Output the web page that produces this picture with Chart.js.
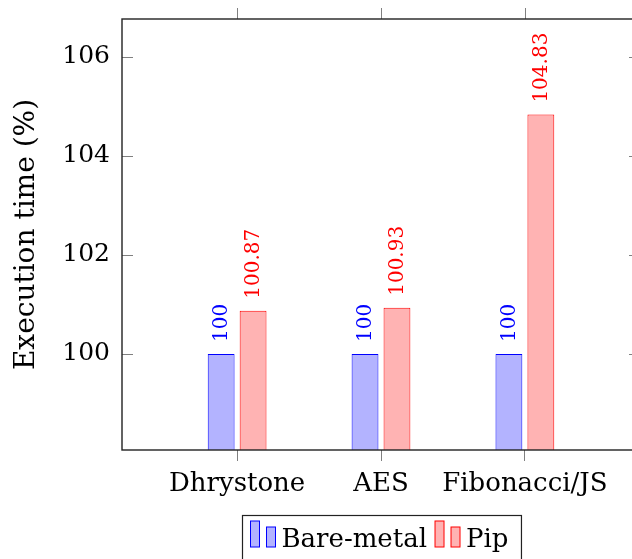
<!DOCTYPE html>
<html>
<head>
<meta charset="utf-8">
<script src="https://cdn.jsdelivr.net/npm/chart.js@4.4.1/dist/chart.umd.min.js"></script>
<style>
  html, body { margin: 0; padding: 0; background: #fff; overflow: hidden; }
  #wrap { position: absolute; left: 0; top: 0; width: 660px; height: 559px; }
</style>
</head>
<body>
<div id="wrap"><canvas id="myChart"></canvas></div>
<script>
// values
const categories = ["Dhrystone", "AES", "Fibonacci/JS"];
const bareMetal = [100, 100, 100];
const pip = [100.87, 100.93, 104.83];
const yTicks = [100, 102, 104, 106];

const SERIF = "DejaVu Serif";
const BLUE = "#0000ff", BLUE_FILL = "#b3b3ff";
const RED = "#ff0000", RED_FILL = "#ffb3b3";

Chart.defaults.font.family = SERIF;
Chart.defaults.color = "#000";

// box, top/right ticks, inward y ticks
const framePlugin = {
  id: "frame",
  afterDatasetsDraw(chart) {
    const { ctx, chartArea: a, scales } = chart;
    ctx.save();
    ctx.strokeStyle = "#808080";
    ctx.lineWidth = 1;
    scales.x.ticks.forEach((t) => {
      const px = Math.round(scales.x.getPixelForValue(t.value)) + 0.5;
      ctx.beginPath(); ctx.moveTo(px, a.top); ctx.lineTo(px, a.top - 11); ctx.stroke();
    });
    scales.y.ticks.forEach((t) => {
      const py = Math.round(scales.y.getPixelForValue(t.value)) + 0.5;
      ctx.beginPath(); ctx.moveTo(a.left, py); ctx.lineTo(a.left + 11, py); ctx.stroke();
      ctx.beginPath(); ctx.moveTo(a.right, py); ctx.lineTo(a.right - 11, py); ctx.stroke();
    });
    ctx.strokeStyle = "#222";
    ctx.lineWidth = 1.4;
    ctx.strokeRect(a.left, a.top, a.right - a.left, a.bottom - a.top);
    ctx.restore();
  },
};

// rotated value labels above the bars
const valueLabels = {
  id: "valueLabels",
  afterDatasetsDraw(chart) {
    const { ctx } = chart;
    ctx.save();
    ctx.font = "20px " + SERIF;
    ctx.textAlign = "left";
    ctx.textBaseline = "middle";
    chart.data.datasets.forEach((ds, di) => {
      const meta = chart.getDatasetMeta(di);
      meta.data.forEach((bar, i) => {
        ctx.save();
        ctx.fillStyle = ds.borderColor;
        ctx.translate(bar.x + 1, bar.y - 12);
        ctx.rotate(-Math.PI / 2);
        ctx.fillText(String(ds.data[i].y), 0, 0);
        ctx.restore();
      });
    });
    ctx.restore();
  },
};

// pgfplots-like legend box under the axis
const boxLegend = {
  id: "boxLegend",
  afterDraw(chart) {
    const { ctx } = chart;
    const top = 515.5, base = 547, padL = 8, padR = 13;
    ctx.save();
    ctx.font = "26px " + SERIF;
    const items = chart.data.datasets.map((ds) => ({ ds, w: ctx.measureText(ds.label).width }));
    let total = padL + padR;
    items.forEach((it, i) => { total += 9 + 7 + 9 + 6 + it.w + (i < items.length - 1 ? 8 : 0); });
    const left = Math.round(381 - total / 2) + 0.5;
    ctx.strokeStyle = "#222";
    ctx.lineWidth = 1.2;
    ctx.strokeRect(left, top, total, 70);
    let x = left + padL;
    ctx.lineWidth = 1;
    items.forEach((it) => {
      ctx.fillStyle = it.ds.backgroundColor;
      ctx.strokeStyle = it.ds.borderColor;
      ctx.fillRect(x, 521, 9, 26); ctx.strokeRect(x, 521, 9, 26);
      x += 16;
      ctx.fillRect(x, 527, 9, 20); ctx.strokeRect(x, 527, 9, 20);
      x += 15;
      ctx.fillStyle = "#000";
      ctx.textBaseline = "alphabetic";
      ctx.fillText(it.ds.label, x, base);
      x += it.w + 8;
    });
    ctx.restore();
  },
};

const ctx = document.getElementById("myChart").getContext("2d");
new Chart(ctx, {
  type: "bar",
  data: {
    datasets: [
      {
        label: "Bare-metal",
        data: bareMetal.map((v, i) => ({ x: i, y: v })),
        backgroundColor: BLUE_FILL,
        borderColor: BLUE,
        borderWidth: 1,
      },
      {
        label: "Pip",
        data: pip.map((v, i) => ({ x: i, y: v })),
        backgroundColor: RED_FILL,
        borderColor: RED,
        borderWidth: 1,
      },
    ],
  },
  options: {
    responsive: true,
    maintainAspectRatio: false,
    animation: false,
    devicePixelRatio: 1,
    categoryPercentage: 0.444,
    barPercentage: 0.84,
    layout: { padding: { top: 19, right: 20, left: 0, bottom: 0 } },
    plugins: {
      legend: { display: false },
      tooltip: { enabled: false },
    },
    scales: {
      x: {
        type: "linear",
        min: -0.8,
        max: 2.8,
        offset: false,
        afterBuildTicks: (scale) => { scale.ticks = categories.map((c, i) => ({ value: i })); },
        afterFit: (scale) => { scale.height = 109; scale.paddingLeft = 0; scale.paddingRight = 0; },
        ticks: {
          callback: (v) => categories[v] ?? "",
          autoSkip: false,
          maxRotation: 0,
          padding: 8,
          font: { size: 26, family: SERIF },
          color: "#000",
        },
        grid: { display: true, drawOnChartArea: false, offset: false, drawTicks: true, tickLength: 11, color: "#808080" },
        border: { display: false },
      },
      y: {
        min: 98.06,
        max: 106.76,
        afterBuildTicks: (scale) => { scale.ticks = yTicks.map((v) => ({ value: v })); },
        afterFit: (scale) => { scale.width = 122; scale.paddingTop = 0; scale.paddingBottom = 0; },
        ticks: { padding: 12, font: { size: 25, family: SERIF }, color: "#000" },
        grid: { display: false, drawTicks: false },
        border: { display: false },
        title: {
          display: true,
          text: "Execution time (%)",
          font: { size: 28, family: SERIF },
          color: "#000",
          padding: { top: 10, bottom: 0 },
        },
      },
    },
  },
  plugins: [framePlugin, valueLabels, boxLegend],
});
</script>
</body>
</html>
